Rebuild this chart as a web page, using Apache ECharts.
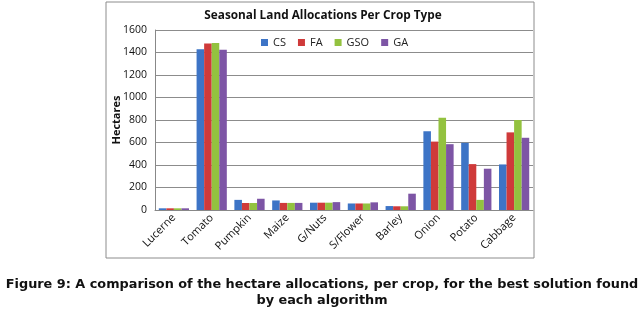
<!DOCTYPE html>
<html>
<head>
<meta charset="utf-8">
<script src="https://cdn.jsdelivr.net/npm/echarts@6/dist/echarts.min.js"></script>
<style>
  html, body { margin: 0; padding: 0; background: #fff; }
  #main { width: 644px; height: 315px; }
</style>
</head>
<body>
<div id="main"></div>
<script>
const crops = ['Lucerne', 'Tomato', 'Pumpkin', 'Maize', 'G/Nuts', 'S/Flower', 'Barley', 'Onion', 'Potato', 'Cabbage']
const csValues = [15, 1430, 90, 85, 65, 58, 35, 700, 597, 405]
const faValues = [15, 1480, 62, 63, 65, 58, 33, 608, 408, 690]
const gsoValues = [15, 1485, 62, 63, 65, 58, 33, 820, 90, 800]
const gaValues = [15, 1425, 100, 63, 70, 68, 145, 585, 367, 642]
const yTicks = { min: 0, max: 1600, interval: 200 }

const chart = echarts.init(document.getElementById('main'))

const makeSeries = (name, color, data) => ({
  name: name,
  type: 'bar',
  barGap: '0%',
  barCategoryGap: '20%',
  itemStyle: { color: color },
  data: data
})

chart.setOption({
  animation: false,
  title: [
    {
      text: 'Seasonal Land Allocations Per Crop Type',
      left: 318,
      top: 5,
      textAlign: 'center',
      textStyle: { fontFamily: 'Open Sans', fontSize: 11.8, fontWeight: 'bold', color: '#111' }
    },
    {
      text: 'Figure 9: A comparison of the hectare allocations, per crop, for the best solution found\nby each algorithm',
      left: 317,
      top: 272,
      textAlign: 'center',
      textStyle: { fontFamily: 'DejaVu Sans', fontSize: 12.85, fontWeight: 'bold', color: '#111', lineHeight: 16, align: 'center' }
    }
  ],
  graphic: [
    {
      type: 'rect',
      shape: { x: 106, y: 2, width: 428, height: 256 },
      style: { fill: 'none', stroke: '#8c8c8c', lineWidth: 1 },
      silent: true
    }
  ],
  legend: {
    left: 256,
    top: 32,
    itemWidth: 7,
    itemHeight: 7,
    itemGap: 12,
    icon: 'rect',
    textStyle: { fontFamily: 'Open Sans', fontSize: 11, color: '#222' },
    data: ['CS', 'FA', 'GSO', 'GA']
  },
  grid: { left: 155, right: 111, top: 30, bottom: 105 },
  xAxis: {
    type: 'category',
    data: crops,
    axisLine: { lineStyle: { color: '#888' } },
    axisTick: { show: false },
    axisLabel: { rotate: 45, fontFamily: 'Open Sans', fontSize: 11, color: '#111', margin: 6 }
  },
  yAxis: {
    type: 'value',
    min: yTicks.min,
    max: yTicks.max,
    interval: yTicks.interval,
    name: 'Hectares',
    nameLocation: 'middle',
    nameRotate: 90,
    nameGap: 33,
    nameMoveOverlap: false,
    nameTextStyle: { fontFamily: 'Open Sans', fontSize: 11, fontWeight: 'bold', color: '#111' },
    axisLine: { show: true, lineStyle: { color: '#888' } },
    axisTick: { show: false },
    axisLabel: { fontFamily: 'Open Sans', fontSize: 10.5, color: '#111', margin: 8, formatter: v => String(v) },
    splitLine: { lineStyle: { color: '#8c8c8c', width: 1 } }
  },
  series: [
    makeSeries('CS', '#3d74c6', csValues),
    makeSeries('FA', '#cf3a3a', faValues),
    makeSeries('GSO', '#93c23f', gsoValues),
    makeSeries('GA', '#7d55a5', gaValues)
  ]
})
</script>
</body>
</html>
